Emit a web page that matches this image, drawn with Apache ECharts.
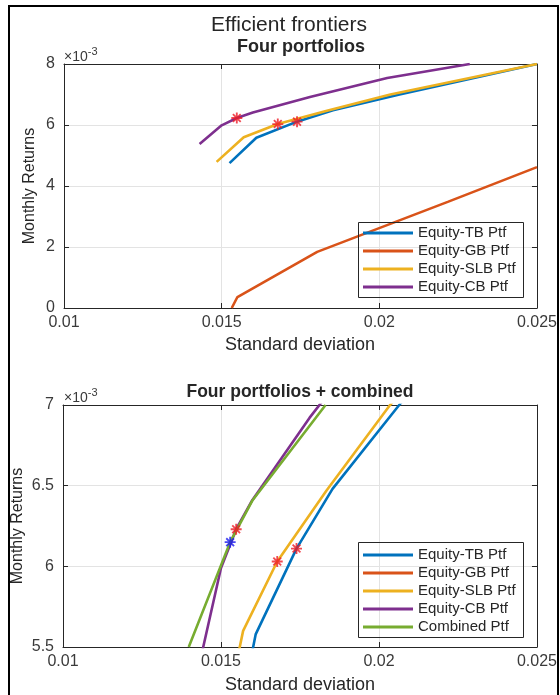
<!DOCTYPE html>
<html>
<head>
<meta charset="utf-8">
<script src="https://cdn.jsdelivr.net/npm/echarts@6/dist/echarts.min.js"></script>
<style>
html,body{margin:0;padding:0;background:#fff;}
#c{width:560px;height:695px;}
</style>
</head>
<body>
<div id="c"></div>
<script>
// ---- data (returns in units of 1e-3) ----
const xTicks = [0.01, 0.015, 0.02, 0.025];
const yTicksTop = [0, 2, 4, 6, 8];
const yTicksBottom = [5.5, 6, 6.5, 7];

const names = ['Equity-TB Ptf', 'Equity-GB Ptf', 'Equity-SLB Ptf', 'Equity-CB Ptf', 'Combined Ptf'];

const sdTB  = [0.01525, 0.0161, 0.01739, 0.01853, 0.02064, 0.025];
const retTB = [4.75, 5.58, 6.11, 6.48, 7.0, 8.0];

const sdGB  = [0.01532, 0.0155, 0.01803, 0.02217, 0.025];
const retGB = [0.0, 0.36, 1.84, 3.48, 4.62];

const sdSLB  = [0.01484, 0.0157, 0.01678, 0.01834, 0.02035, 0.025];
const retSLB = [4.79, 5.6, 6.03, 6.47, 7.0, 8.0];

const sdCB  = [0.0143, 0.015, 0.01548, 0.01599, 0.0178, 0.02025, 0.02287];
const retCB = [5.38, 5.99, 6.23, 6.41, 6.92, 7.54, 8.0];

const sdComb  = [0.01398, 0.01529, 0.016, 0.01831];
const retComb = [5.5, 6.15, 6.41, 7.0];

// optimal points (red asterisks) for the four portfolios, blue for combined
const starSd  = [0.01548, 0.01678, 0.01739];
const starRet = [6.23, 6.03, 6.11];
const combStarSd  = [0.01529];
const combStarRet = [6.15];

// ---- styling ----
const FONT = '"Liberation Sans", Arial, sans-serif';
const AX = '#262626';
const LBL = '#3a3a3a';
const GRIDC = '#e3e3e3';
const colors = ['#0072BD', '#D95319', '#EDB120', '#7E2F8E', '#77AC30'];
const ASTER = 'path://M-1,-6L1,-6L1,6L-1,6Z M-6,-1L6,-1L6,1L-6,1Z M-3.54,-4.95L4.95,3.54L3.54,4.95L-4.95,-3.54Z M3.54,-4.95L4.95,-3.54L-3.54,4.95L-4.95,3.54Z';

const zip = (a, b) => a.map((v, i) => [v, b[i]]);
const fmtX = v => String(+v.toFixed(3));
const fmtY = v => String(+v.toFixed(2));

function axesFor(gi, ticksX, ticksY) {
  const xmin = ticksX[0], xmax = ticksX[ticksX.length - 1], xint = ticksX[1] - ticksX[0];
  const ymin = ticksY[0], ymax = ticksY[ticksY.length - 1], yint = ticksY[1] - ticksY[0];
  const common = {
    gridIndex: gi, type: 'value',
    axisLine: { show: true, onZero: false, lineStyle: { color: AX, width: 1 } },
    axisTick: { show: true, inside: true, length: 5, lineStyle: { color: AX } }
  };
  const xs = [
    Object.assign({}, common, {
      position: 'bottom', min: xmin, max: xmax, interval: xint,
      axisLabel: { show: true, color: LBL, fontSize: 16, fontFamily: FONT, margin: 7, formatter: fmtX, showMinLabel: true, showMaxLabel: true },
      splitLine: { show: true, lineStyle: { color: GRIDC, width: 1 } }
    }),
    Object.assign({}, common, {
      position: 'top', min: xmin, max: xmax, interval: xint,
      axisLabel: { show: false }, splitLine: { show: false }
    })
  ];
  const ys = [
    Object.assign({}, common, {
      position: 'left', min: ymin, max: ymax, interval: yint,
      axisLabel: { show: true, color: LBL, fontSize: 16, fontFamily: FONT, margin: 9, formatter: fmtY, showMinLabel: true, showMaxLabel: true },
      splitLine: { show: true, lineStyle: { color: GRIDC, width: 1 } }
    }),
    Object.assign({}, common, {
      position: 'right', min: ymin, max: ymax, interval: yint,
      axisLabel: { show: false }, splitLine: { show: false }
    })
  ];
  return { xs, ys };
}

const a0 = axesFor(0, xTicks, yTicksTop);
const a1 = axesFor(1, xTicks, yTicksBottom);

function lineSeries(name, sd, ret, color, xi, yi) {
  return {
    type: 'line', name, data: zip(sd, ret), xAxisIndex: xi, yAxisIndex: yi,
    symbol: 'none', smooth: false, clip: true, animation: false,
    lineStyle: { color, width: 2.6 }, itemStyle: { color }, z: 3
  };
}
function starSeries(sd, ret, color, xi, yi) {
  return {
    type: 'scatter', data: zip(sd, ret), xAxisIndex: xi, yAxisIndex: yi,
    symbol: ASTER, symbolSize: 11, itemStyle: { color }, animation: false, z: 5,
    silent: true
  };
}

const series = [
  lineSeries(names[0], sdTB, retTB, colors[0], 0, 0),
  lineSeries(names[1], sdGB, retGB, colors[1], 0, 0),
  lineSeries(names[2], sdSLB, retSLB, colors[2], 0, 0),
  lineSeries(names[3], sdCB, retCB, colors[3], 0, 0),
  starSeries(starSd, starRet, '#ee1c25', 0, 0),

  lineSeries(names[0], sdTB, retTB, colors[0], 2, 2),
  lineSeries(names[1], sdGB, retGB, colors[1], 2, 2),
  lineSeries(names[2], sdSLB, retSLB, colors[2], 2, 2),
  lineSeries(names[3], sdCB, retCB, colors[3], 2, 2),
  lineSeries(names[4], sdComb, retComb, colors[4], 2, 2),
  starSeries(starSd, starRet, '#ee1c25', 2, 2),
  starSeries(combStarSd, combStarRet, '#1a1aee', 2, 2)
];

function legendFor(data, left, top) {
  return {
    data: data.map(n => ({ name: n, icon: 'rect' })),
    orient: 'vertical', left, top, padding: 0, itemGap: 0,
    itemWidth: 50, itemHeight: 3, selectedMode: false,
    textStyle: { fontSize: 15, fontFamily: FONT, color: '#262626', lineHeight: 18, padding: [0, 0, 0, 0] },
    backgroundColor: 'transparent'
  };
}

function txt(text, x, y, size, opts) {
  return Object.assign({
    type: 'text', x, y, silent: true, z: 10,
    style: Object.assign({ text, fill: '#262626', font: (opts && opts.weight ? opts.weight + ' ' : '') + size + 'px ' + FONT, align: 'center', verticalAlign: 'middle' }, opts && opts.style)
  }, opts && opts.el);
}

function mult(x, y) {
  return {
    type: 'text', x, y, silent: true, z: 10,
    style: {
      text: '{a|×10}{b|-3}',
      align: 'left', verticalAlign: 'middle',
      rich: {
        a: { fontSize: 14, fontFamily: FONT, fill: LBL, color: LBL, verticalAlign: 'bottom', lineHeight: 18 },
        b: { fontSize: 11, fontFamily: FONT, fill: LBL, color: LBL, verticalAlign: 'top', lineHeight: 18 }
      }
    }
  };
}

const option = {
  backgroundColor: '#fff',
  animation: false,
  color: colors,
  grid: [
    { left: 64, top: 64, width: 473, height: 244, containLabel: false },
    { left: 63, top: 405, width: 474, height: 242, containLabel: false }
  ],
  xAxis: [a0.xs[0], a0.xs[1], a1.xs[0], a1.xs[1]],
  yAxis: [a0.ys[0], a0.ys[1], a1.ys[0], a1.ys[1]],
  legend: [
    legendFor(names.slice(0, 4), 363, 224),
    legendFor(names, 363, 546)
  ],
  series,
  graphic: [
    { type: 'rect', shape: { x: 9, y: 6, width: 549, height: 700 }, style: { fill: 'none', stroke: '#000', lineWidth: 2 }, silent: true, z: 0 },
    { type: 'rect', shape: { x: 358.5, y: 222.5, width: 165, height: 75 }, style: { fill: 'none', stroke: '#262626', lineWidth: 1 }, silent: true, z: 10 },
    { type: 'rect', shape: { x: 358.5, y: 542.5, width: 165, height: 95 }, style: { fill: 'none', stroke: '#262626', lineWidth: 1 }, silent: true, z: 10 },
    txt('Efficient frontiers', 289, 25, 21),
    txt('Four portfolios', 301, 47, 18, { weight: 'bold' }),
    txt('Four portfolios + combined', 300, 392, 17.5, { weight: 'bold' }),
    txt('Standard deviation', 300, 345, 18),
    txt('Standard deviation', 300, 685, 18),
    txt('Monthly Returns', 30, 186, 16, { el: { rotation: Math.PI / 2 } }),
    txt('Monthly Returns', 18, 526, 16, { el: { rotation: Math.PI / 2 } }),
    mult(64, 55),
    mult(64, 396)
  ]
};

const chart = echarts.init(document.getElementById('c'), null, { renderer: 'canvas' });
chart.setOption(option);
</script>
</body>
</html>
